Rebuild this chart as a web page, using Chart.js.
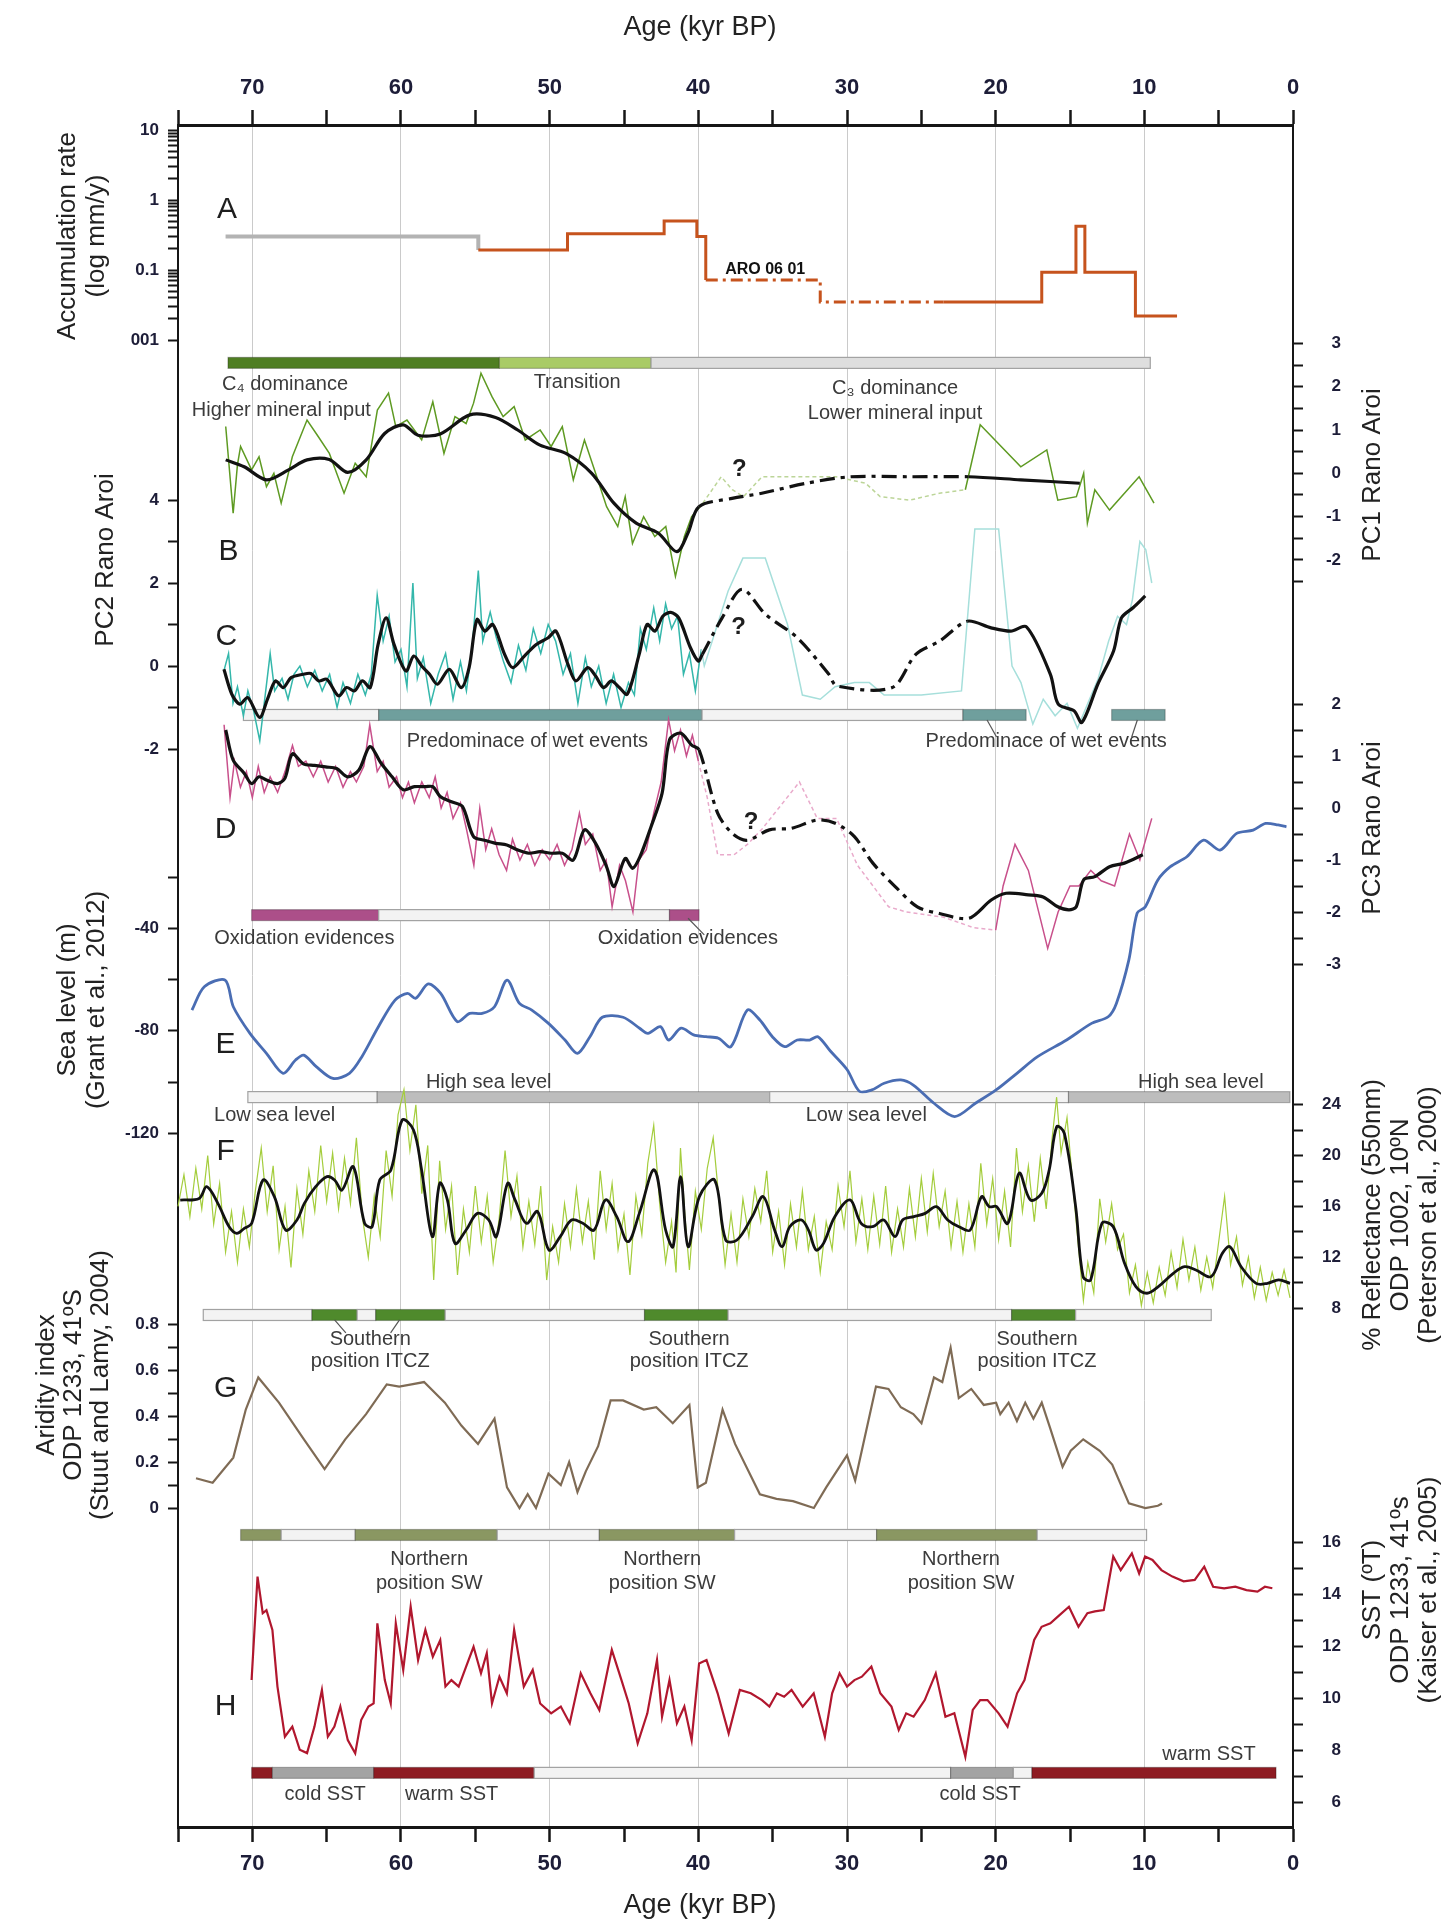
<!DOCTYPE html>
<html>
<head>
<meta charset="utf-8">
<title>Rano Aroi records, 0-75 kyr BP</title>
<script src="https://cdn.jsdelivr.net/npm/chart.js@4.4.1/dist/chart.umd.min.js"></script>
<style>
  html, body { margin: 0; padding: 0; background: #fff; }
  #chart { display: block; }
</style>
</head>
<body>
<canvas id="chart" width="1455" height="1923"></canvas>
<script>
// ---------- age axis ----------
const ageTickValues = [75, 70, 65, 60, 55, 50, 45, 40, 35, 30, 25, 20, 15, 10, 5, 0];
const ageTickLabels = [70, 60, 50, 40, 30, 20, 10, 0];
const ageGridLines = [70, 60, 50, 40, 30, 20, 10];

// ---------- A: accumulation rate (mm/y), step record ----------
const accRate = [[71.8,0.3],[54.8,0.193],[48.8,0.33],[42.3,0.5],[40.1,0.3],[39.5,0.072],[31.8,0.035],[23.5,0.035],
  [16.9,0.093],[14.6,0.42],[14.0,0.093],[10.6,0.022],[7.8,0.022]];
const accTickLabelValues = [10, 1, 0.1, 0.01];
const accTickLabels = ['10', '1', '0.1', '001'];

// ---------- B: PC1 Rano Aroi ----------
const pc1Raw = [[71.79,1.08],[71.29,-0.92],[71.0,0.2],[70.79,0.62],[70.05,0.08],[69.55,0.38],[69.05,-0.31],[68.55,0.0],[68.06,-0.69],
  [67.31,0.38],[66.32,1.23],[65.57,0.85],[64.82,0.46],[63.83,-0.46],[63.08,0.23],[62.34,-0.08],[61.59,1.46],[60.84,1.85],
  [60.35,1.08],[59.6,1.23],[58.61,0.77],[57.86,1.65],[57.11,0.46],[56.37,1.31],[55.62,1.15],[55.12,1.62],[54.62,2.31],
  [53.88,1.77],[53.13,1.31],[52.39,1.54],[51.64,0.77],[50.64,1.0],[49.9,0.62],[49.15,1.08],[48.41,-0.15],[47.66,0.77],
  [46.91,0.0],[46.17,-0.77],[45.42,-1.23],[44.92,-0.54],[44.43,-1.62],[43.68,-1.0],[42.93,-1.46],[42.19,-1.23],[41.54,-2.38],
  [40.94,-1.46],[40.45,-1.0],[39.7,-0.69],[38.46,-0.08],[37.71,-0.38],[36.96,-0.54],[35.72,-0.08],[33.23,-0.08],[30.74,-0.08],
  [28.75,-0.23],[27.76,-0.54],[25.77,-0.62],[23.78,-0.46],[22.04,-0.38],[21.04,1.12],[18.31,0.15],[16.56,0.54],[15.82,-0.62],
  [14.57,-0.54],[14.08,0.0],[13.83,-1.15],[13.33,-0.38],[12.34,-0.85],[10.35,-0.08],[9.35,-0.69]];
const pc1Smooth = [[71.79,0.31],[70.55,0.15],[69.05,-0.15],[67.56,0.08],[66.32,0.31],[64.83,0.32],[63.58,0.02],[62.34,0.31],
  [61.1,0.92],[59.85,1.12],[58.86,0.88],[57.36,0.91],[55.37,1.35],[53.64,1.29],[52.15,1.0],[50.65,0.65],[48.91,0.46],
  [47.17,0.0],[45.68,-0.69],[44.18,-1.15],[42.7,-1.38],[41.45,-1.81],[40.7,-1.38],[39.96,-0.77],[37.73,-0.58],[35.73,-0.46],
  [32.75,-0.23],[29.76,-0.08],[25.78,-0.08],[21.8,-0.08],[18.32,-0.15],[14.34,-0.23]];
const pc1GapRange = [21.8, 39.96];
const pc1Ticks = [3, 2.5, 2, 1.5, 1, 0.5, 0, -0.5, -1, -1.5, -2, -2.5];
const pc1TickLabelValues = [3, 2, 1, 0, -1, -2];
const pc1TickLabels = ['3', '2', '1', '0', '-1', '-2'];

// ---------- C: PC2 Rano Aroi ----------
const pc2Raw = [[71.9,-0.1],[71.6,0.3],[71.3,-0.9],[71.0,-0.5],[70.6,-1.2],[70.3,-0.6],[69.9,-1.1],[69.5,-1.8],[69.2,-0.9],
  [68.8,0.3],[68.5,-0.6],[68.0,-0.3],[67.6,-0.8],[67.2,-0.2],[66.8,0.0],[66.3,-0.5],[65.8,-0.1],[65.3,-0.6],[64.8,-0.2],
  [64.3,-1.0],[63.9,-0.4],[63.4,-0.9],[62.9,-0.2],[62.4,-0.7],[62.0,-0.2],[61.6,1.7],[61.2,0.6],[60.8,1.2],[60.4,0.1],
  [60.0,0.4],[59.6,-0.5],[59.2,2.0],[58.9,-0.3],[58.5,0.2],[58.0,-0.9],[57.5,-0.2],[57.0,0.3],[56.5,-0.8],[56.0,0.1],
  [55.6,-0.6],[55.2,0.5],[54.8,2.3],[54.5,0.6],[54.0,1.3],[53.6,0.7],[53.1,0.1],[52.6,-0.4],[52.1,0.5],[51.6,-0.1],
  [51.1,0.9],[50.6,0.3],[50.1,1.0],[49.6,0.6],[49.1,-0.2],[48.6,0.3],[48.1,-0.9],[47.6,0.2],[47.2,-0.5],[46.7,0.0],
  [46.2,-0.9],[45.7,-0.2],[45.2,-1.0],[44.7,-0.4],[44.3,-0.7],[43.9,0.9],[43.5,0.4],[43.0,1.4],[42.6,0.6],[42.2,1.5],
  [41.8,0.9],[41.4,1.2],[41.0,-0.2],[40.6,0.3],[40.2,-0.6],[39.8,0.4],[39.6,0.0],[38.0,1.8],[37.0,2.6],[35.5,2.6],
  [34.0,1.0],[33.0,-0.7],[31.8,-0.8],[30.8,-0.5],[29.5,-0.4],[28.5,-0.4],[27.5,-0.7],[25.0,-0.7],[22.3,-0.6],[21.4,3.3],
  [20.5,3.3],[19.8,3.3],[18.9,0.0],[18.3,-0.4],[17.5,-1.4],[16.8,-0.8],[16.0,-1.2],[15.2,-0.9],[14.5,-1.5],[13.8,-0.9],
  [13.1,-0.3],[12.4,0.6],[11.8,1.2],[11.2,1.0],[10.8,1.6],[10.3,3.0],[9.9,2.8],[9.5,2.0]];
const pc2Smooth = [[71.91,-0.08],[71.38,-0.68],[70.84,-0.92],[70.31,-0.76],[69.51,-1.24],[68.98,-0.8],[68.45,-0.36],
  [67.92,-0.52],[67.39,-0.28],[66.59,-0.2],[66.06,-0.18],[65.53,-0.36],[64.99,-0.32],[64.2,-0.72],[63.66,-0.52],
  [63.13,-0.6],[62.6,-0.36],[62.07,-0.52],[61.54,0.52],[61.0,1.16],[60.47,0.52],[59.67,-0.12],[59.14,0.24],[58.61,0.0],
  [58.08,-0.2],[57.55,-0.44],[56.75,-0.08],[55.95,-0.52],[55.42,-0.04],[54.89,1.12],[54.36,0.84],[53.82,1.0],[53.03,0.28],
  [52.49,-0.04],[51.7,0.24],[50.9,0.52],[50.1,0.68],[49.57,0.84],[48.77,0.04],[48.24,-0.36],[47.44,-0.04],[46.91,-0.24],
  [46.38,-0.52],[45.85,-0.36],[45.31,-0.52],[44.78,-0.68],[43.98,0.28],[43.45,1.0],[42.92,0.84],[42.39,1.2],[41.85,1.29],
  [41.32,1.16],[40.53,0.44],[40.0,0.12],[39.73,0.28],[38.4,1.16],[37.07,1.85],[35.47,1.24],[33.34,0.68],[31.22,-0.2],
  [30.69,-0.48],[26.96,-0.52],[25.37,0.28],[23.77,0.6],[21.91,1.08],[20.31,0.92],[18.98,0.84],[17.92,0.94],[16.32,-0.2],
  [15.79,-0.92],[14.73,-1.08],[14.2,-1.36],[13.13,-0.44],[12.07,0.36],[11.54,1.16],[10.74,1.41],[9.94,1.69]];
const pc2GapRange = [21.91, 39.73];
const pc2Ticks = [4, 3, 2, 1, 0, -1, -2];
const pc2TickLabelValues = [4, 2, 0, -2];
const pc2TickLabels = ['4', '2', '0', '-2'];

// ---------- D: PC3 Rano Aroi ----------
const pc3Raw = [[71.9,1.6],[71.5,0.2],[71.2,0.9],[70.8,0.4],[70.4,0.7],[70.0,0.2],[69.6,0.8],[69.2,0.3],[68.8,0.6],[68.3,0.3],
  [67.8,0.7],[67.3,1.2],[66.9,0.8],[66.4,0.9],[65.9,0.6],[65.4,0.9],[64.9,0.5],[64.4,0.8],[63.9,0.4],[63.4,0.7],[63.0,0.5],
  [62.5,0.8],[62.1,1.6],[61.6,0.7],[61.2,0.9],[60.8,0.4],[60.3,0.6],[59.9,0.2],[59.5,0.5],[59.1,0.1],[58.6,0.5],[58.1,0.2],
  [57.7,0.6],[57.3,0.0],[56.9,0.3],[56.5,-0.2],[56.0,0.1],[55.6,-0.4],[55.1,-1.1],[54.7,0.0],[54.3,-0.8],[53.9,-0.4],
  [53.4,-0.9],[52.9,-1.2],[52.5,-0.6],[52.0,-1.0],[51.5,-0.7],[51.0,-1.1],[50.5,-0.8],[50.0,-1.0],[49.5,-0.7],[49.0,-1.1],
  [48.5,-0.8],[48.0,-0.1],[47.6,-0.7],[47.1,-0.5],[46.6,-1.2],[46.2,-1.0],[45.8,-1.9],[45.3,-1.1],[44.9,-1.4],[44.4,-2.0],
  [44.0,-1.0],[43.5,-0.8],[43.0,-0.1],[42.5,0.5],[42.0,1.7],[41.6,1.1],[41.2,1.5],[40.8,1.0],[40.4,1.4],[40.0,0.9],
  [39.4,0.2],[38.7,-0.9],[37.6,-0.9],[36.7,-0.7],[35.7,-0.4],[33.2,0.5],[32.0,-0.2],[30.7,-0.2],[29.3,-1.1],[27.2,-1.9],
  [26.0,-2.0],[23.5,-2.1],[21.5,-2.3],[20.0,-2.35],[19.5,-1.5],[18.7,-0.7],[17.8,-1.2],[16.5,-2.7],[15.8,-2.0],[15.0,-1.5],
  [14.4,-1.5],[13.6,-1.2],[12.9,-1.4],[12.0,-1.5],[11.0,-0.5],[10.3,-1.0],[9.5,-0.2]];
const pc3Smooth = [[71.79,1.5],[71.29,0.92],[70.55,0.67],[70.05,0.47],[69.55,0.6],[69.05,0.54],[68.31,0.47],[67.81,0.57],
  [67.31,1.04],[66.57,0.85],[65.82,0.82],[65.07,0.79],[64.33,0.76],[63.58,0.6],[62.83,0.73],[62.09,1.18],[61.34,0.86],
  [60.6,0.6],[59.85,0.35],[59.1,0.41],[58.36,0.41],[57.86,0.41],[57.36,0.22],[56.61,0.12],[55.87,0.03],[55.12,-0.55],
  [54.38,-0.62],[53.63,-0.68],[52.88,-0.71],[52.14,-0.81],[51.39,-0.87],[50.64,-0.84],[49.9,-0.87],[49.15,-0.87],
  [48.41,-1.0],[47.66,-0.42],[46.91,-0.68],[46.17,-1.13],[45.67,-1.51],[44.92,-0.97],[44.43,-1.16],[43.93,-0.94],
  [43.18,-0.36],[42.44,0.28],[41.94,1.31],[41.19,1.44],[40.45,1.21],[39.95,1.12],[38.7,-0.1],[37.71,-0.49],[36.71,-0.62],
  [35.22,-0.42],[33.73,-0.39],[31.99,-0.23],[30.74,-0.3],[29.5,-0.55],[28.26,-1.06],[26.76,-1.51],[25.27,-1.9],
  [23.78,-2.03],[21.79,-2.12],[20.3,-1.77],[19.3,-1.64],[17.81,-1.67],[16.81,-1.71],[15.82,-1.9],[15.07,-1.96],
  [14.58,-1.9],[14.08,-1.38],[13.33,-1.32],[12.34,-1.13],[11.34,-1.06],[10.1,-0.9]];
const pc3GapRange = [21.79, 39.95];
const pc3RawGapRange = [20.0, 40.0];
const pc3Ticks = [2, 1.5, 1, 0.5, 0, -0.5, -1, -1.5, -2, -2.5, -3];
const pc3TickLabelValues = [2, 1, 0, -1, -2, -3];
const pc3TickLabels = ['2', '1', '0', '-1', '-2', '-3'];

// ---------- E: sea level (m), Grant et al. 2012 ----------
const seaLevel = [[74.06,-71.9],[73.23,-62.8],[71.83,-60.2],[71.28,-70.6],[70.16,-81.0],[69.05,-88.8],[67.93,-96.6],
  [67.09,-91.4],[66.54,-89.5],[65.7,-94.0],[64.58,-98.6],[63.47,-96.6],[62.63,-90.1],[61.52,-78.4],[60.4,-68.0],
  [59.56,-65.4],[59.01,-67.3],[58.17,-61.7],[57.33,-65.4],[56.22,-76.4],[55.38,-73.2],[54.54,-73.2],[53.71,-70.6],
  [52.87,-60.2],[52.03,-69.3],[51.2,-71.9],[50.08,-77.1],[48.97,-83.6],[48.13,-88.8],[47.29,-82.3],[46.46,-74.7],
  [45.06,-74.7],[43.95,-79.0],[43.39,-81.0],[42.55,-78.4],[42.0,-83.6],[41.16,-79.0],[40.32,-81.6],[39.49,-82.3],
  [38.65,-82.9],[37.81,-86.2],[36.7,-71.9],[35.86,-75.8],[35.02,-82.3],[34.19,-86.2],[33.35,-83.6],[32.51,-83.6],
  [31.96,-82.3],[31.12,-87.9],[30.0,-95.1],[29.17,-103.6],[28.33,-103.1],[27.5,-100.5],[26.38,-99.2],[25.54,-101.2],
  [24.15,-108.3],[22.76,-113.5],[21.36,-108.3],[19.97,-103.1],[18.57,-96.6],[17.18,-90.1],[15.23,-83.6],[13.55,-77.1],
  [12.43,-74.5],[11.88,-69.3],[11.04,-52.3],[10.49,-34.1],[9.93,-31.5],[9.09,-21.1],[8.25,-15.9],[7.14,-12.0],[6.02,-5.5],
  [4.91,-9.4],[3.79,-2.9],[2.68,-1.6],[1.84,1.0],[1.0,0.4],[0.44,-0.3]];
const seaTicks = [-20, -40, -60, -80, -100, -120];
const seaTickLabelValues = [-40, -80, -120];
const seaTickLabels = ['-40', '-80', '-120'];

// ---------- F: % reflectance 550 nm, ODP 1002 ----------
const reflRaw = [[75.0,16.0],[74.6,18.5],[74.2,15.2],[73.8,19.0],[73.4,15.8],[73.0,20.0],[72.6,14.6],[72.2,17.8],[71.8,12.4],
  [71.4,15.6],[71.0,11.6],[70.6,15.8],[70.2,12.8],[69.8,17.2],[69.4,20.6],[69.0,15.6],[68.6,19.2],[68.2,12.6],[67.8,16.0],
  [67.4,11.2],[67.0,17.4],[66.6,13.8],[66.2,18.8],[65.8,15.6],[65.4,20.8],[65.0,16.4],[64.6,20.2],[64.2,15.8],[63.8,19.8],
  [63.4,16.2],[63.0,21.4],[62.6,15.2],[62.2,12.0],[61.8,16.8],[61.4,13.6],[61.0,20.4],[60.6,16.8],[60.2,23.2],[59.8,25.2],
  [59.4,20.4],[59.0,24.0],[58.6,17.0],[58.2,20.8],[57.8,10.2],[57.4,19.6],[57.0,14.2],[56.6,17.6],[56.2,10.6],[55.8,15.8],
  [55.4,12.4],[55.0,17.6],[54.6,13.2],[54.2,16.8],[53.8,11.6],[53.4,15.0],[53.0,20.4],[52.6,15.2],[52.2,18.4],[51.8,12.8],
  [51.4,16.4],[51.0,13.0],[50.6,17.6],[50.2,10.2],[49.8,14.4],[49.4,11.6],[49.0,16.2],[48.6,12.8],[48.2,17.4],[47.8,13.2],
  [47.4,16.4],[47.0,11.8],[46.6,18.8],[46.2,14.2],[45.8,17.8],[45.4,12.6],[45.0,15.4],[44.6,10.6],[44.2,16.8],[43.8,13.8],
  [43.4,19.4],[43.0,22.4],[42.6,16.2],[42.2,11.6],[41.8,14.8],[41.5,10.8],[41.2,20.6],[40.9,15.2],[40.6,11.0],[40.2,17.2],
  [39.8,14.2],[39.4,19.0],[39.0,21.4],[38.6,16.4],[38.2,11.4],[37.8,15.4],[37.4,11.6],[37.0,16.6],[36.6,13.6],[36.2,17.4],
  [35.8,14.8],[35.4,18.8],[35.0,12.4],[34.6,15.6],[34.2,11.4],[33.8,16.2],[33.4,12.8],[33.0,17.2],[32.6,12.6],[32.2,15.2],
  [31.8,10.8],[31.4,14.8],[31.0,12.6],[30.6,17.6],[30.2,14.4],[29.8,18.8],[29.4,13.2],[29.0,16.6],[28.6,12.6],[28.2,16.8],
  [27.8,13.0],[27.4,17.6],[27.0,12.4],[26.6,15.8],[26.2,12.8],[25.8,17.4],[25.4,13.6],[25.0,18.2],[24.6,14.0],[24.2,18.6],
  [23.8,14.4],[23.4,17.2],[23.0,12.8],[22.6,16.4],[22.2,12.4],[21.8,16.2],[21.4,12.8],[21.0,19.4],[20.6,14.6],[20.2,18.2],
  [19.8,13.4],[19.4,17.2],[19.0,12.8],[18.6,20.6],[18.2,15.6],[17.8,19.2],[17.4,14.8],[17.0,19.8],[16.6,15.8],[16.2,21.4],
  [15.9,24.6],[15.6,20.2],[15.2,23.0],[14.8,17.6],[14.4,12.4],[14.1,8.6],[13.8,11.6],[13.4,9.2],[13.0,16.6],[12.6,13.2],
  [12.2,16.2],[11.8,12.6],[11.4,13.8],[11.0,9.2],[10.6,11.4],[10.2,8.2],[9.8,10.8],[9.4,8.4],[9.0,11.2],[8.6,9.0],[8.2,12.4],
  [7.8,9.6],[7.4,13.4],[7.0,10.2],[6.6,12.8],[6.2,9.4],[5.8,12.0],[5.4,9.6],[5.0,13.2],[4.6,16.8],[4.2,11.4],[3.8,13.6],
  [3.4,9.8],[3.0,12.0],[2.6,8.8],[2.2,11.2],[1.8,8.6],[1.4,10.8],[1.0,9.0],[0.6,11.0],[0.2,8.8]];
const reflSmooth = [[74.85,16.5],[73.58,16.63],[73.07,17.55],[72.32,16.24],[71.56,14.4],[71.05,13.88],[70.54,14.27],
  [70.04,14.67],[69.28,18.08],[68.52,16.77],[67.76,14.14],[67.0,14.93],[66.5,16.24],[65.74,17.55],[64.98,18.34],
  [64.47,18.08],[63.97,17.29],[63.21,19.13],[62.45,14.67],[61.94,14.4],[61.43,18.08],[60.68,18.87],[59.92,22.8],
  [59.16,22.02],[58.65,19.13],[57.89,13.62],[57.39,17.82],[56.88,16.51],[56.37,13.09],[55.62,14.14],[54.86,15.45],
  [54.1,14.93],[53.59,13.62],[52.83,17.82],[52.33,16.51],[51.57,14.67],[50.81,15.59],[50.05,12.57],[49.29,13.62],
  [48.53,14.93],[47.77,14.67],[47.01,14.14],[46.25,16.51],[45.49,15.19],[44.73,13.22],[43.97,15.45],[42.96,18.87],
  [42.2,14.14],[41.7,12.83],[41.19,18.34],[40.69,12.83],[39.93,16.77],[38.91,18.08],[38.16,13.35],[37.4,13.35],
  [36.38,15.19],[35.63,16.77],[34.87,14.14],[34.36,12.83],[33.85,14.4],[33.09,14.93],[32.59,14.14],[32.08,12.57],
  [31.58,13.09],[30.82,15.19],[29.8,16.51],[29.05,14.67],[28.29,14.4],[27.53,14.93],[26.77,13.62],[26.26,14.93],
  [25.5,15.19],[24.74,15.45],[23.99,15.98],[23.23,14.93],[22.47,14.4],[21.71,14.14],[20.95,16.77],[20.44,15.98],
  [19.94,15.98],[19.18,14.67],[18.42,18.61],[17.66,16.51],[16.9,17.03],[16.4,18.87],[15.89,22.28],[15.38,21.75],
  [14.62,15.98],[14.12,10.47],[13.61,10.21],[12.85,14.67],[12.09,14.4],[11.33,11.52],[10.57,9.68],[9.82,9.16],
  [9.06,9.68],[8.05,10.73],[7.29,11.25],[6.53,10.99],[5.51,10.47],[4.75,12.31],[4.25,12.83],[3.49,11.25],[2.48,9.94],
  [1.72,9.94],[0.96,10.21],[0.2,9.94]];
const reflTicks = [24, 22, 20, 18, 16, 14, 12, 10, 8];
const reflTickLabelValues = [24, 20, 16, 12, 8];
const reflTickLabels = ['24', '20', '16', '12', '8'];

// ---------- G: aridity index, ODP 1233 ----------
const aridity = [[73.79,0.13],[72.67,0.11],[71.28,0.22],[70.44,0.43],[69.6,0.57],[68.21,0.46],[66.53,0.3],[65.14,0.17],
  [63.75,0.3],[62.35,0.41],[60.96,0.54],[60.12,0.53],[59.29,0.54],[58.45,0.55],[57.05,0.46],[55.94,0.36],[54.82,0.28],
  [53.71,0.39],[52.87,0.09],[52.03,0.0],[51.48,0.06],[50.92,0.0],[50.08,0.15],[49.25,0.1],[48.69,0.2],[48.13,0.07],
  [47.57,0.16],[46.74,0.27],[45.9,0.47],[45.06,0.47],[43.67,0.43],[42.83,0.44],[41.72,0.37],[40.6,0.45],[40.04,0.09],
  [39.49,0.11],[38.37,0.43],[37.53,0.28],[35.86,0.06],[34.74,0.04],[33.63,0.03],[32.23,0.0],[31.4,0.09],[30.0,0.23],
  [29.45,0.12],[28.05,0.53],[27.21,0.52],[26.38,0.44],[25.54,0.41],[24.99,0.37],[24.15,0.57],[23.59,0.55],[23.03,0.7],
  [22.48,0.48],[21.64,0.52],[20.8,0.45],[19.97,0.46],[19.69,0.41],[19.13,0.46],[18.57,0.38],[18.01,0.46],[17.46,0.39],
  [16.9,0.46],[16.34,0.35],[15.5,0.18],[14.95,0.25],[14.11,0.3],[13.0,0.25],[12.16,0.19],[11.04,0.02],[9.93,0.0],
  [9.09,0.01],[8.81,0.02]];
const aridTicks = [0.8, 0.7, 0.6, 0.5, 0.4, 0.3, 0.2, 0.1, 0];
const aridTickLabelValues = [0.8, 0.6, 0.4, 0.2, 0];
const aridTickLabels = ['0.8', '0.6', '0.4', '0.2', '0'];

// ---------- H: SST, ODP 1233 ----------
const sst = [[70.05,10.69],[69.65,14.67],[69.3,13.26],[69.05,13.38],[68.65,12.62],[68.31,10.44],[67.81,8.51],[67.31,8.9],
  [66.81,8.01],[66.32,7.88],[65.82,8.9],[65.32,10.31],[64.92,8.51],[64.48,8.9],[64.08,9.67],[63.58,8.38],[63.08,7.87],
  [62.68,9.15],[62.19,9.67],[61.84,9.79],[61.59,12.87],[61.09,10.69],[60.69,9.79],[60.35,12.87],[59.85,11.08],[59.35,13.51],
  [58.85,11.46],[58.36,12.62],[57.86,11.59],[57.36,12.23],[57.01,10.44],[56.61,10.69],[56.12,10.44],[55.62,11.21],
  [55.12,11.97],[54.62,10.95],[54.23,11.72],[53.88,9.79],[53.38,10.82],[52.88,10.18],[52.39,12.62],[51.74,10.44],
  [51.14,11.08],[50.64,9.79],[49.9,9.41],[49.25,9.67],[48.65,9.03],[47.91,10.95],[47.26,10.18],[46.66,9.54],[45.82,11.85],
  [45.17,10.69],[44.68,9.79],[44.08,8.26],[43.43,9.41],[42.78,11.46],[42.44,9.28],[41.94,10.69],[41.44,9.03],[40.94,9.67],
  [40.45,8.38],[39.95,11.33],[39.45,11.46],[38.7,10.18],[37.96,8.64],[37.21,10.31],[36.47,10.18],[35.72,9.92],[35.22,9.67],
  [34.72,10.18],[34.23,10.05],[33.73,10.31],[32.98,9.67],[32.24,10.18],[31.49,8.51],[31.0,10.18],[30.5,10.95],[30.0,10.44],
  [29.5,10.69],[29.0,10.82],[28.36,11.21],[27.76,10.18],[27.01,9.67],[26.52,8.77],[26.02,9.41],[25.52,9.28],[24.77,9.92],
  [24.03,10.95],[23.38,9.28],[22.78,9.41],[22.04,7.74],[21.54,9.54],[21.04,9.92],[20.55,9.92],[19.8,9.41],[19.2,8.9],
  [18.56,10.18],[18.06,10.69],[17.41,12.23],[16.91,12.74],[16.32,12.87],[15.82,13.13],[15.07,13.51],[14.43,12.74],
  [13.83,13.26],[13.33,13.33],[12.73,13.38],[12.09,15.44],[11.59,14.92],[10.84,15.56],[10.35,14.79],[9.95,15.44],
  [9.45,15.31],[8.85,14.92],[8.11,14.67],[7.36,14.49],[6.61,14.54],[5.97,15.05],[5.37,14.28],[4.63,14.22],[3.88,14.28],
  [3.13,14.15],[2.39,14.09],[1.89,14.28],[1.39,14.22]];
const sstTicks = [16, 15, 14, 13, 12, 11, 10, 9, 8, 7, 6];
const sstTickLabelValues = [16, 14, 12, 10, 8, 6];
const sstTickLabels = ['16', '14', '12', '10', '8', '6'];

// ---------- interpretation bars (start age, end age, class) ----------
const vegZones = [[71.64,53.38,'c4'],[53.38,43.18,'transition'],[43.18,9.6,'c3']];
const wetZones = [[70.6,61.5,'plain'],[61.5,39.75,'wet'],[39.75,22.2,'plain'],[22.2,17.95,'wet'],[12.2,8.6,'wet']];
const oxZones = [[70.05,61.5,'ox'],[61.5,41.94,'plain'],[41.94,39.95,'ox']];
const seaZones = [[70.3,61.6,'plain'],[61.6,35.2,'high'],[35.2,15.1,'plain'],[15.1,0.2,'high']];
const itczZones = [[73.3,65.99,'plain'],[65.99,62.95,'itcz'],[62.95,61.7,'plain'],[61.7,57.03,'itcz'],[57.03,43.62,'plain'],
  [43.62,38.0,'itcz'],[38.0,18.93,'plain'],[18.93,14.62,'itcz'],[14.62,5.5,'plain']];
const swZones = [[70.79,68.06,'sw'],[68.06,63.08,'plain'],[63.08,53.53,'sw'],[53.53,46.66,'plain'],[46.66,37.56,'sw'],
  [37.56,28.01,'plain'],[28.01,17.21,'sw'],[17.21,9.85,'plain']];
const sstZones = [[70.05,68.65,'warm'],[68.65,61.84,'cold'],[61.84,51.04,'warm'],[51.04,23.03,'plain'],[23.03,18.81,'cold'],
  [18.81,17.56,'plain'],[17.56,1.14,'warm']];

// ================= layout & style =================
const W = 1455, H = 1923;
const AREA = {left: 178, right: 1293, top: 125, bottom: 1827};
const LEFT_W = 70, RIGHT_W = 48, X_H = 50;
// vertical slots of the stacked y axes (page pixels); left and right stacks tile the plot height
const BANDS = {
  yA: [125, 420], yC: [420, 800], yE: [800, 1250], yG: [1250, 1827],
  yB: [125, 640], yD: [640, 1040], yF: [1040, 1425], yH: [1425, 1827]
};
const TXT = '"Liberation Sans", Arial, Helvetica, sans-serif';
const NARROW = '"Liberation Sans Narrow", "Arial Narrow", "Liberation Sans", Arial, sans-serif';
const INK = '#161616';
const TICK_INK = '#1d1d38';

const COL = {
  black: '#121212', accGray: '#b3b3b3', accOrange: '#c6531d',
  pc1: '#5e9a22', pc1Light: '#bcd598', pc2: '#34b7ab', pc2Light: '#a6dfdb',
  pc3: '#c8508b', pc3Light: '#e9aacb', sea: '#4a6db3', refl: '#a4cd3c',
  arid: '#7f6b55', sst: '#b1172e'
};
const BAR_FILL = {
  c4: '#4f7e22', transition: '#a9cb66', c3: '#dedede', plain: '#f3f3f3', wet: '#6f9f9d',
  ox: '#ac4f89', high: '#bdbdbd', itcz: '#4f8a2c', sw: '#8a9762', warm: '#8e1b22', cold: '#a3a3a3'
};
const BAR_H = 11;

// axis range so that value v0 lands on pixel p0 with k px per unit, inside the axis' band
function linRange(id, v0, p0, k) {
  const [t, b] = BANDS[id];
  return {min: v0 - (b - p0) / k, max: v0 + (p0 - t) / k};
}
function logRange(id, v0, p0, k) {
  const [t, b] = BANDS[id];
  const l = Math.log10(v0);
  return {min: Math.pow(10, l - (b - p0) / k), max: Math.pow(10, l + (p0 - t) / k)};
}

function accTickList() {
  const t = [];
  for (let e = -2; e <= 0; e++) for (let m = 1; m <= 9; m++) t.push(m * Math.pow(10, e));
  t.push(10);
  return t;
}

function yScale(id, side, range, tickValues, labelValues, labelTexts, type) {
  const left = side === 'left';
  return {
    type: type || 'linear',
    position: side,
    stack: left ? 'leftStack' : 'rightStack',
    stackWeight: BANDS[id][1] - BANDS[id][0],
    min: range.min,
    max: range.max,
    afterFit: s => { s.width = left ? LEFT_W : RIGHT_W; },
    afterBuildTicks: s => { s.ticks = tickValues.map(v => ({value: v})); },
    grid: {drawOnChartArea: false, drawTicks: true, tickLength: 10, tickColor: INK, tickWidth: 2},
    border: {display: true, color: INK, width: 2},
    ticks: {
      autoSkip: false, padding: left ? 9 : 6, crossAlign: left ? 'near' : 'far', color: TICK_INK,
      font: {family: TXT, size: 17, weight: 'bold'},
      callback: v => {
        const i = labelValues.findIndex(l => Math.abs(l - v) < 1e-9);
        return i < 0 ? '' : labelTexts[i];
      }
    }
  };
}

function xScale(pos, onArea) {
  return {
    type: 'linear', position: pos, reverse: true, min: 0, max: 75,
    afterFit: s => { s.height = X_H; },
    afterBuildTicks: s => { s.ticks = ageTickValues.map(v => ({value: v})); },
    grid: {
      drawOnChartArea: onArea, drawTicks: true, tickLength: 15, tickWidth: 2.5, tickColor: INK, lineWidth: 1,
      color: c => (c.tick && ageGridLines.includes(c.tick.value)) ? '#cacaca' : 'rgba(0,0,0,0)'
    },
    border: {display: true, color: INK, width: 3},
    ticks: {
      autoSkip: false, maxRotation: 0, padding: 9, color: TICK_INK,
      font: {family: TXT, size: 22, weight: 'bold'},
      callback: v => ageTickLabels.includes(v) ? String(v) : ''
    }
  };
}

const xy = arr => arr.map(([x, y]) => ({x, y}));
const inRange = (c, r) => c.p0.parsed.x <= r[1] + 1e-6 && c.p1.parsed.x >= r[0] - 1e-6;
const DASHDOT = [15, 6, 4, 6];

function line(data, axis, color, width, extra) {
  return Object.assign({
    data: xy(data), yAxisID: axis, xAxisID: 'x', borderColor: color, borderWidth: width,
    pointRadius: 0, fill: false, tension: 0, order: 1, clip: false
  }, extra || {});
}

const datasets = [
  line(accRate, 'yA', COL.accOrange, 3, {
    stepped: true, order: 0,
    segment: {
      borderColor: c => c.p0DataIndex === 0 ? COL.accGray : undefined,
      borderWidth: c => c.p0DataIndex === 0 ? 4 : undefined,
      borderDash: c => inRange(c, [23.5, 39.5]) ? [12, 5, 3, 5] : undefined
    }
  }),
  line(pc1Smooth, 'yB', COL.black, 3.2, {tension: 0.3, order: 0,
    segment: {borderDash: c => inRange(c, pc1GapRange) ? DASHDOT : undefined}}),
  line(pc1Raw, 'yB', COL.pc1, 1.5, {
    segment: {
      borderColor: c => inRange(c, [22.04, 39.7]) ? COL.pc1Light : undefined,
      borderDash: c => inRange(c, [22.04, 39.7]) ? [4, 3] : undefined
    }
  }),
  line(pc2Smooth, 'yC', COL.black, 3.2, {tension: 0.3, order: 0,
    segment: {borderDash: c => inRange(c, pc2GapRange) ? DASHDOT : undefined}}),
  line(pc2Raw, 'yC', COL.pc2, 1.5, {
    segment: {borderColor: c => c.p0.parsed.x <= 39.8 ? COL.pc2Light : undefined}
  }),
  line(pc3Smooth, 'yD', COL.black, 3.2, {tension: 0.3, order: 0,
    segment: {borderDash: c => inRange(c, pc3GapRange) ? DASHDOT : undefined}}),
  line(pc3Raw, 'yD', COL.pc3, 1.5, {
    segment: {
      borderColor: c => inRange(c, pc3RawGapRange) ? COL.pc3Light : undefined,
      borderDash: c => inRange(c, pc3RawGapRange) ? [4, 3] : undefined
    }
  }),
  line(seaLevel, 'yE', COL.sea, 2.8, {tension: 0.3}),
  line(reflSmooth, 'yF', COL.black, 2.8, {tension: 0.35, order: 0}),
  line(reflRaw, 'yF', COL.refl, 1.2),
  line(aridity, 'yG', COL.arid, 2.2),
  line(sst, 'yH', COL.sst, 2.2)
];

// where each interpretation bar sits (value on its panel axis)
const barLayout = [
  {zones: vegZones, axis: 'yB', level: 2.55},
  {zones: wetZones, axis: 'yC', level: -1.18},
  {zones: oxZones, axis: 'yD', level: -2.06},
  {zones: seaZones, axis: 'yE', level: -105.9},
  {zones: itczZones, axis: 'yF', level: 7.45},
  {zones: swZones, axis: 'yH', level: 16.27},
  {zones: sstZones, axis: 'yH', level: 7.12}
];

// text placed in panel coordinates (age, value on panel axis)
const notes = [
  {t: 'A', axis: 'yA', age: 71.7, v: 0.72, kind: 'letter'},
  {t: 'B', axis: 'yB', age: 71.6, v: -1.82, kind: 'letter'},
  {t: 'C', axis: 'yC', age: 71.75, v: 0.7, kind: 'letter'},
  {t: 'D', axis: 'yD', age: 71.8, v: -0.42, kind: 'letter'},
  {t: 'E', axis: 'yE', age: 71.8, v: -85.5, kind: 'letter'},
  {t: 'F', axis: 'yF', age: 71.8, v: 20.3, kind: 'letter'},
  {t: 'G', axis: 'yG', age: 71.8, v: 0.52, kind: 'letter'},
  {t: 'H', axis: 'yH', age: 71.8, v: 9.65, kind: 'letter'},
  {t: 'ARO 06 01', axis: 'yA', age: 35.5, v: 0.1, kind: 'tag'},
  {t: '?', axis: 'yB', age: 37.24, v: 0.08, kind: 'q'},
  {t: '?', axis: 'yC', age: 37.3, v: 0.92, kind: 'q'},
  {t: '?', axis: 'yD', age: 36.45, v: -0.27, kind: 'q'},
  {t: 'C\u2084 dominance', axis: 'yB', age: 67.8, v: 2.04, kind: 'zone'},
  {t: 'Higher mineral input', axis: 'yB', age: 68.05, v: 1.46, kind: 'zone'},
  {t: 'Transition', axis: 'yB', age: 48.15, v: 2.09, kind: 'zone'},
  {t: 'C\u2083 dominance', axis: 'yB', age: 26.77, v: 1.97, kind: 'zone'},
  {t: 'Lower mineral input', axis: 'yB', age: 26.77, v: 1.39, kind: 'zone'},
  {t: 'Predominace of wet events', axis: 'yC', age: 51.5, v: -1.83, kind: 'zone'},
  {t: 'Predominace of wet events', axis: 'yC', age: 16.6, v: -1.83, kind: 'zone'},
  {t: 'Oxidation evidences', axis: 'yD', age: 66.5, v: -2.5, kind: 'zone'},
  {t: 'Oxidation evidences', axis: 'yD', age: 40.7, v: -2.5, kind: 'zone'},
  {t: 'High sea level', axis: 'yE', age: 54.1, v: -100, kind: 'zone'},
  {t: 'High sea level', axis: 'yE', age: 6.2, v: -100, kind: 'zone'},
  {t: 'Low sea level', axis: 'yE', age: 68.5, v: -112.9, kind: 'zone'},
  {t: 'Low sea level', axis: 'yE', age: 28.7, v: -112.9, kind: 'zone'},
  {t: 'Southern', axis: 'yG', age: 62.07, v: 0.734, kind: 'zone'},
  {t: 'position ITCZ', axis: 'yG', age: 62.07, v: 0.638, kind: 'zone'},
  {t: 'Southern', axis: 'yG', age: 40.62, v: 0.734, kind: 'zone'},
  {t: 'position ITCZ', axis: 'yG', age: 40.62, v: 0.638, kind: 'zone'},
  {t: 'Southern', axis: 'yG', age: 17.22, v: 0.734, kind: 'zone'},
  {t: 'position ITCZ', axis: 'yG', age: 17.22, v: 0.638, kind: 'zone'},
  {t: 'Northern', axis: 'yH', age: 58.1, v: 15.31, kind: 'zone'},
  {t: 'position SW', axis: 'yH', age: 58.1, v: 14.42, kind: 'zone'},
  {t: 'Northern', axis: 'yH', age: 42.43, v: 15.31, kind: 'zone'},
  {t: 'position SW', axis: 'yH', age: 42.43, v: 14.42, kind: 'zone'},
  {t: 'Northern', axis: 'yH', age: 22.33, v: 15.31, kind: 'zone'},
  {t: 'position SW', axis: 'yH', age: 22.33, v: 14.42, kind: 'zone'},
  {t: 'cold SST', axis: 'yH', age: 65.1, v: 6.27, kind: 'zone'},
  {t: 'warm SST', axis: 'yH', age: 56.6, v: 6.27, kind: 'zone'},
  {t: 'cold SST', axis: 'yH', age: 21.05, v: 6.27, kind: 'zone'},
  {t: 'warm SST', axis: 'yH', age: 5.65, v: 7.81, kind: 'zone'}
];
const NOTE_FONT = {
  letter: {font: '30px ' + TXT, color: '#1e1e1e'},
  tag: {font: 'bold 16px ' + NARROW, color: '#111'},
  q: {font: 'bold 24px ' + TXT, color: '#1e1e1e'},
  zone: {font: '20px ' + NARROW, color: '#3b3b3b'}
};

// short connector strokes from bars to their captions
const leaders = [
  {axis: 'yC', a: [20.58, -1.3], b: [19.94, -1.71]},
  {axis: 'yC', a: [10.47, -1.3], b: [10.85, -1.71]},
  {axis: 'yD', a: [40.69, -2.12], b: [39.6, -2.44]},
  {axis: 'yF', a: [64.47, 7.06], b: [63.71, 6.04]},
  {axis: 'yF', a: [60.1, 7.06], b: [60.7, 6.04]}
];

// axis titles, in page pixels: lines, first-line x, line step, centre y
const titles = [
  {lines: ['Accumulation rate', '(log mm/y)'], x: 68, dx: 29, y: 236},
  {lines: ['PC2 Rano Aroi'], x: 106, dx: 0, y: 560},
  {lines: ['Sea level (m)', '(Grant et al., 2012)'], x: 68, dx: 29, y: 1000},
  {lines: ['Aridity index', 'ODP 1233, 41\u00baS', '(Stuut and Lamy, 2004)'], x: 47, dx: 27, y: 1385},
  {lines: ['PC1 Rano Aroi'], x: 1373, dx: 0, y: 475},
  {lines: ['PC3 Rano Aroi'], x: 1373, dx: 0, y: 828},
  {lines: ['% Reflectance (550nm)', 'ODP 1002, 10\u00baN', '(Peterson et al., 2000)'], x: 1373, dx: 28, y: 1215},
  {lines: ['SST (\u00baT)', 'ODP 1233, 41\u00bas', '(Kaiser et al., 2005)'], x: 1373, dx: 28, y: 1590}
];

const decor = {
  id: 'decor',
  beforeDatasetsDraw(chart) {
    const ctx = chart.ctx, xs = chart.scales.x;
    ctx.save();
    barLayout.forEach(b => {
      const yc = chart.scales[b.axis].getPixelForValue(b.level);
      b.zones.forEach(([a0, a1, kind]) => {
        const x0 = xs.getPixelForValue(a0), x1 = xs.getPixelForValue(a1);
        ctx.fillStyle = BAR_FILL[kind];
        ctx.fillRect(x0, yc - BAR_H / 2, x1 - x0, BAR_H);
        ctx.strokeStyle = kind === 'plain' || kind === 'c3' ? '#a2a2a2' : 'rgba(0,0,0,0.25)';
        ctx.lineWidth = 1.2;
        ctx.strokeRect(x0, yc - BAR_H / 2, x1 - x0, BAR_H);
      });
    });
    ctx.strokeStyle = '#555';
    ctx.lineWidth = 1.2;
    leaders.forEach(l => {
      const ys = chart.scales[l.axis];
      ctx.beginPath();
      ctx.moveTo(xs.getPixelForValue(l.a[0]), ys.getPixelForValue(l.a[1]));
      ctx.lineTo(xs.getPixelForValue(l.b[0]), ys.getPixelForValue(l.b[1]));
      ctx.stroke();
    });
    ctx.textAlign = 'center';
    ctx.textBaseline = 'middle';
    notes.forEach(n => {
      const st = NOTE_FONT[n.kind];
      ctx.font = st.font;
      ctx.fillStyle = st.color;
      ctx.fillText(n.t, xs.getPixelForValue(n.age), chart.scales[n.axis].getPixelForValue(n.v));
    });
    ctx.restore();
  },
  afterDraw(chart) {
    const ctx = chart.ctx;
    ctx.save();
    ctx.fillStyle = '#222';
    ctx.textAlign = 'center';
    ctx.textBaseline = 'middle';
    ctx.font = '26px ' + TXT;
    titles.forEach(t => {
      t.lines.forEach((s, i) => {
        ctx.save();
        ctx.translate(t.x + i * t.dx, t.y);
        ctx.rotate(-Math.PI / 2);
        ctx.fillText(s, 0, 0);
        ctx.restore();
      });
    });
    ctx.font = '27px ' + TXT;
    ctx.fillText('Age (kyr BP)', 700, 28);
    ctx.fillText('Age (kyr BP)', 700, 1906);
    ctx.restore();
  }
};

new Chart(document.getElementById('chart'), {
  type: 'line',
  data: {datasets},
  options: {
    responsive: false,
    devicePixelRatio: 1,
    animation: false,
    events: [],
    layout: {
      autoPadding: false,
      padding: {
        left: AREA.left - LEFT_W,
        right: W - AREA.right - RIGHT_W,
        top: AREA.top - X_H,
        bottom: H - AREA.bottom - X_H
      }
    },
    plugins: {legend: {display: false}, tooltip: {enabled: false}},
    // left-hand boxes are laid out in reverse order, so the left stack is listed bottom-up
    scales: {
      x: xScale('bottom', true),
      xTop: xScale('top', false),
      yG: yScale('yG', 'left', linRange('yG', 0, 1508, 229), aridTicks, aridTickLabelValues, aridTickLabels),
      yE: yScale('yE', 'left', linRange('yE', 0, 826, 2.56), seaTicks, seaTickLabelValues, seaTickLabels),
      yC: yScale('yC', 'left', linRange('yC', 0, 666, 41.5), pc2Ticks, pc2TickLabelValues, pc2TickLabels),
      yA: yScale('yA', 'left', logRange('yA', 1, 200, 70), accTickList(), accTickLabelValues, accTickLabels, 'logarithmic'),
      yB: yScale('yB', 'right', linRange('yB', 0, 473.3, 43.3), pc1Ticks, pc1TickLabelValues, pc1TickLabels),
      yD: yScale('yD', 'right', linRange('yD', 0, 808, 52), pc3Ticks, pc3TickLabelValues, pc3TickLabels),
      yF: yScale('yF', 'right', linRange('yF', 0, 1409.6, 12.7), reflTicks, reflTickLabelValues, reflTickLabels),
      yH: yScale('yH', 'right', linRange('yH', 0, 1958, 26), sstTicks, sstTickLabelValues, sstTickLabels)
    }
  },
  plugins: [decor]
});
</script>
</body>
</html>
